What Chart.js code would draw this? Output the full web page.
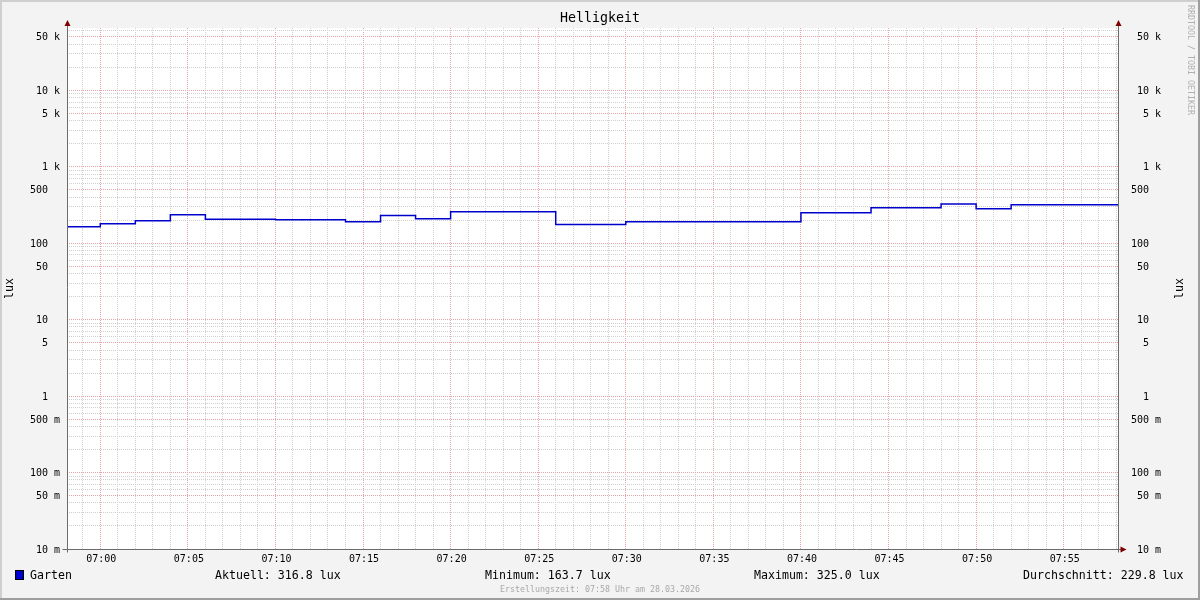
<!DOCTYPE html>
<html><head><meta charset="utf-8">
<script src="https://cdn.jsdelivr.net/npm/chart.js@4.4.1/dist/chart.umd.min.js"></script>
<style>html,body{margin:0;padding:0;background:#f3f3f3;overflow:hidden}#wrap{width:1200px;height:600px;position:relative}</style>
</head><body><div id="wrap"><canvas id="c" width="1200" height="600"></canvas></div>
<script>
const chartTitle = 'Helligkeit';
const seriesName = 'Garten';
const unitLabel = 'lux';
const stepTimes = ['06:58','07:00','07:02','07:04','07:06','07:10','07:14','07:16','07:18','07:20','07:26','07:30','07:40','07:44','07:48','07:50','07:52','07:59'];
const luxValues = [163.7,179.1,196.0,234.8,205.6,202.0,190.2,229.8,208.3,256.9,175.3,190.2,249.2,289.6,325.0,281.1,316.8,316.8];
const xRange = ['06:58:06','07:58:06'];
const xLabelTimes = ['07:00','07:05','07:10','07:15','07:20','07:25','07:30','07:35','07:40','07:45','07:50','07:55'];
const xMinorTimes = ['06:59','07:00','07:01','07:02','07:03','07:04','07:05','07:06','07:07','07:08','07:09','07:10','07:11','07:12','07:13','07:14','07:15','07:16','07:17','07:18','07:19','07:20','07:21','07:22','07:23','07:24','07:25','07:26','07:27','07:28','07:29','07:30','07:31','07:32','07:33','07:34','07:35','07:36','07:37','07:38','07:39','07:40','07:41','07:42','07:43','07:44','07:45','07:46','07:47','07:48','07:49','07:50','07:51','07:52','07:53','07:54','07:55','07:56','07:57','07:58'];
const yRange = [0.01, 65000];
const yLabelValues = [50000,10000,5000,1000,500,100,50,10,5,1,0.5,0.1,0.05,0.01];
const yTickLabels = [' 50 k',' 10 k','  5 k','  1 k','500  ','100  ',' 50  ',' 10  ','  5  ','  1  ','500 m','100 m',' 50 m',' 10 m'];
const yGridMultipliers = [1,2,3,4,5,6,7,8,9];
const yGridDecades = [-2,-1,0,1,2,3,4];
const statLabels = ['Aktuell: 316.8 lux','Minimum: 163.7 lux','Maximum: 325.0 lux','Durchschnitt: 229.8 lux'];
const footerText = 'Erstellungszeit: 07:58 Uhr am 28.03.2026';
const watermark = 'RRDTOOL / TOBI OETIKER';

const MONO = '"DejaVu Sans Mono", "Liberation Mono", monospace';
const toMin = s => { const p = s.split(':').map(Number); return p[0]*60 + p[1] + (p[2]||0)/60 - 420; };
const yGridValues = [];
yGridDecades.forEach(e => yGridMultipliers.forEach(m => {
  const v = Number((m * Math.pow(10, e)).toPrecision(3));
  if (v >= yRange[0] && v <= yRange[1]) yGridValues.push(v);
}));
const yLabelIndex = v => yLabelValues.findIndex(l => Math.abs(l - v) / l < 1e-6);
const yMajorIdx = yGridValues.map(v => yLabelIndex(v) >= 0);
const xMajorIdx = xMinorTimes.map(t => xLabelTimes.includes(t));

const GRID_MINOR = '#d0d0d0';
const GRID_MAJOR = '#e8a4a4';
const LINE_COLOR = '#0000cc';

const points = stepTimes.map((t, i) => ({x: toMin(t), y: luxValues[i]}));

const decor = {
  id: 'rrdDecor',
  beforeDraw(chart) {
    const {ctx, chartArea: a} = chart;
    ctx.save();
    ctx.fillStyle = '#f3f3f3';
    ctx.fillRect(0, 0, 1200, 600);
    ctx.fillStyle = '#cfcfcf';
    ctx.fillRect(0, 0, 1200, 2);
    ctx.fillRect(0, 0, 2, 600);
    ctx.fillStyle = '#9e9e9e';
    ctx.fillRect(0, 598, 1200, 2);
    ctx.fillRect(1198, 0, 2, 600);
    ctx.fillStyle = '#ffffff';
    ctx.fillRect(a.left, a.top, a.right - a.left, a.bottom - a.top);
    ctx.restore();
  },
  afterDraw(chart) {
    const {ctx, chartArea: a} = chart;
    const L = Math.round(a.left) + 0.5, R = Math.round(a.right) + 0.5, B = Math.round(a.bottom) + 0.5;
    const T = Math.round(a.top);
    ctx.save();
    ctx.strokeStyle = '#6b6b6b';
    ctx.lineWidth = 1;
    ctx.setLineDash([]);
    ctx.beginPath();
    ctx.moveTo(L, B + 3); ctx.lineTo(L, T - 5);
    ctx.moveTo(R, B + 3); ctx.lineTo(R, T - 5);
    ctx.moveTo(L - 5, B); ctx.lineTo(R + 3, B);
    ctx.stroke();
    ctx.fillStyle = '#800000';
    const upArrow = x => { ctx.beginPath(); ctx.moveTo(x - 3, T - 2); ctx.lineTo(x + 3, T - 2); ctx.lineTo(x, T - 8); ctx.closePath(); ctx.fill(); };
    upArrow(L); upArrow(R);
    ctx.beginPath(); ctx.moveTo(R + 2, B - 3); ctx.lineTo(R + 2, B + 3); ctx.lineTo(R + 8, B); ctx.closePath(); ctx.fill();

    ctx.fillStyle = '#000';
    ctx.font = '11.6px ' + MONO;
    ctx.textBaseline = 'middle';
    ctx.textAlign = 'center';
    const midY = (a.top + a.bottom) / 2;
    [10, 1180].forEach(x => { ctx.save(); ctx.translate(x, midY); ctx.rotate(-Math.PI/2); ctx.fillText(unitLabel, 0, 0); ctx.restore(); });

    ctx.textAlign = 'left';
    ctx.fillStyle = LINE_COLOR;
    ctx.fillRect(15, 570, 9, 10);
    ctx.strokeStyle = '#000';
    ctx.strokeRect(15.5, 570.5, 8, 9);
    ctx.fillStyle = '#000';
    ctx.fillText(seriesName, 30, 575.5);
    const statX = [215, 485, 754, 1023];
    statLabels.forEach((s, i) => ctx.fillText(s, statX[i], 575.5));

    ctx.fillStyle = '#a8a8a8';
    ctx.font = '8.3px ' + MONO;
    ctx.textAlign = 'center';
    ctx.fillText(footerText, 600, 589.5);
    ctx.save();
    ctx.translate(1190.5, 5);
    ctx.rotate(Math.PI/2);
    ctx.textAlign = 'left';
    ctx.fillStyle = '#b0b0b0';
    ctx.fillText(watermark, 0, 0);
    ctx.restore();
    ctx.restore();
  }
};

const yAxisCommon = (pos, width, pad, onArea) => ({
  type: 'logarithmic', position: pos, display: true,
  min: yRange[0], max: yRange[1],
  afterFit: s => { s.width = width; },
  afterBuildTicks: s => { s.ticks = yGridValues.map(v => ({value: v})); },
  ticks: {
    autoSkip: false, padding: pad, color: '#000', labelOffset: 1,
    font: {family: MONO, size: 10},
    callback: (v, i) => yMajorIdx[i] ? yTickLabels[yLabelIndex(yGridValues[i])] : ''
  },
  grid: {
    drawOnChartArea: onArea, drawTicks: false, lineWidth: 1,
    color: c => yMajorIdx[c.index] ? GRID_MAJOR : GRID_MINOR
  },
  border: {display: false, dash: [1, 1]}
});

new Chart(document.getElementById('c'), {
  type: 'line',
  data: {
    datasets: [{
      label: seriesName, data: points, borderColor: LINE_COLOR, backgroundColor: LINE_COLOR,
      borderWidth: 1.5, pointRadius: 0, stepped: true, fill: false, yAxisID: 'y'
    }]
  },
  options: {
    responsive: false, devicePixelRatio: 1, animation: false,
    layout: {padding: {top: 0, left: 0, right: 0, bottom: 0}},
    plugins: {
      legend: {display: false}, tooltip: {enabled: false},
      title: {display: true, text: chartTitle, color: '#000', font: {family: MONO, size: 13.3, weight: 'normal', lineHeight: '16px'}, padding: {top: 11, bottom: 1}}
    },
    scales: {
      x: {
        type: 'linear', position: 'bottom',
        min: toMin(xRange[0]), max: toMin(xRange[1]),
        afterFit: s => { s.height = 51; },
        afterBuildTicks: s => { s.ticks = xMinorTimes.map(t => ({value: toMin(t)})); },
        ticks: {
          autoSkip: false, maxRotation: 0, padding: 4, color: '#000', labelOffset: 1,
          font: {family: MONO, size: 10},
          callback: (v, i) => xMajorIdx[i] ? xMinorTimes[i] : ''
        },
        grid: {drawTicks: false, lineWidth: 1, color: c => xMajorIdx[c.index] ? GRID_MAJOR : GRID_MINOR},
        border: {display: false, dash: [1, 1]}
      },
      y: yAxisCommon('left', 67, 7, true),
      y2: yAxisCommon('right', 82, 13, false)
    }
  },
  plugins: [decor]
});
</script></body></html>
